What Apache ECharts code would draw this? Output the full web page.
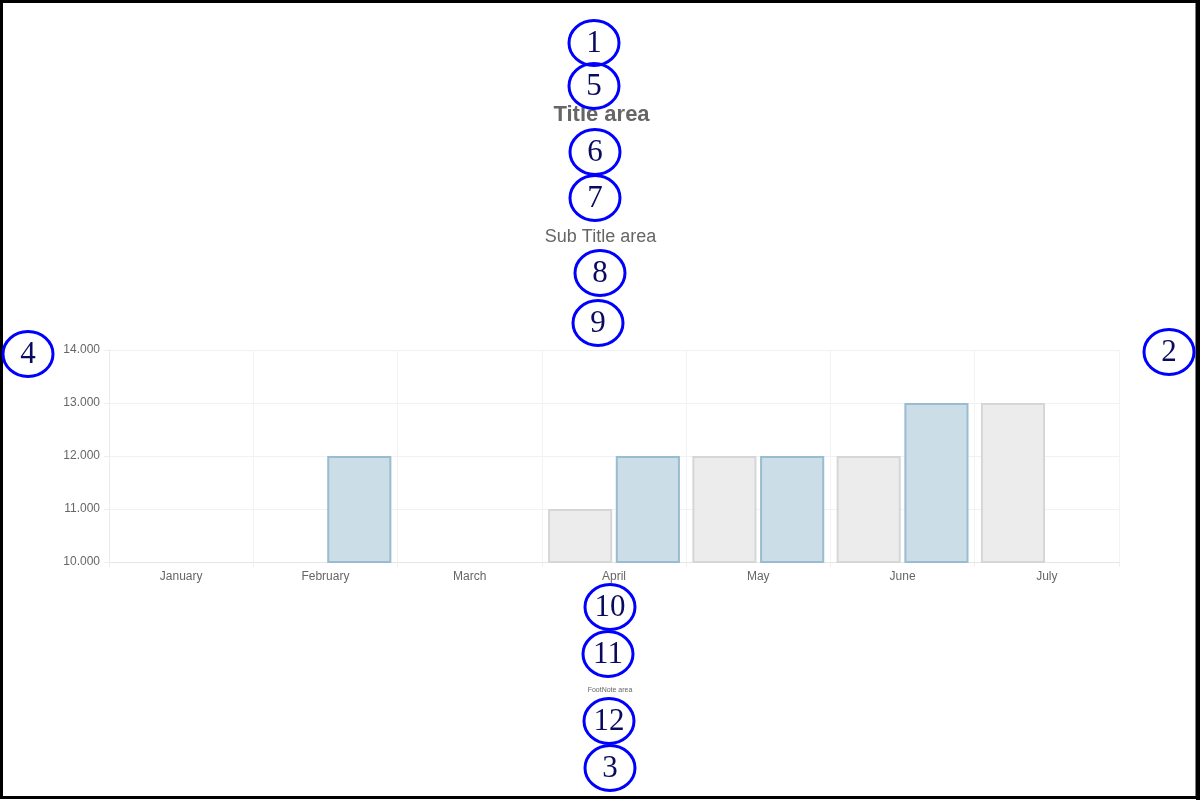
<!DOCTYPE html>
<html>
<head>
<meta charset="utf-8">
<script src="https://cdn.jsdelivr.net/npm/echarts@6/dist/echarts.min.js"></script>
<style>
  html, body { margin: 0; padding: 0; background: #fff; }
  #chart { width: 1200px; height: 800px; }
</style>
</head>
<body>
<div id="chart"></div>
<script>
// ---- data ----
const categories = ['January', 'February', 'March', 'April', 'May', 'June', 'July'];
const seriesGrey = [null, null, 10015, 11000, 12000, 12000, 13000];
const seriesBlue = [null, 12000, null, 12000, 12000, 13000, null];
const yTicks = [10000, 11000, 12000, 13000, 14000];
const yTickLabels = ['10.000', '11.000', '12.000', '13.000', '14.000'];
const titleText = 'Title area';
const subTitleText = 'Sub Title area';
const footNoteText = 'FootNote area';
const markerLabels = ['1', '5', '6', '7', '8', '9', '4', '2', '10', '11', '12', '3'];

// ---- layout of annotation markers (not data) ----
const markerPos = [
  [594, 43], [594, 86], [595, 152], [595, 198], [600, 273], [598, 323],
  [28, 354], [1169, 352], [610, 607], [608, 654], [609, 721], [610, 768]
];

const chart = echarts.init(document.getElementById('chart'), null, { renderer: 'canvas' });
const sans = '"Liberation Sans", Arial, sans-serif';

const graphics = [];
graphics.push({
  type: 'rect', z: 100, silent: true,
  shape: { x: 1.5, y: 1.5, width: 1195.5, height: 796 },
  style: { fill: 'none', stroke: '#000', lineWidth: 3 }
});
graphics.push({
  type: 'rect', z: 100, silent: true,
  shape: { x: 1196, y: 0, width: 4, height: 800 },
  style: { fill: '#000' }
});
// titles
graphics.push({ type: 'text', z: 50, silent: true, x: 601.5, y: 115,
  style: { text: titleText, fill: '#666666', font: 'bold 22px ' + sans, textAlign: 'center', textVerticalAlign: 'middle' } });
graphics.push({ type: 'text', z: 50, silent: true, x: 600.5, y: 237.5,
  style: { text: subTitleText, fill: '#666666', font: '18px ' + sans, textAlign: 'center', textVerticalAlign: 'middle' } });
graphics.push({ type: 'text', z: 50, silent: true, x: 610, y: 690.5,
  style: { text: footNoteText, fill: '#666666', font: '7px ' + sans, textAlign: 'center', textVerticalAlign: 'middle' } });

markerLabels.forEach((lab, i) => {
  const [cx, cy] = markerPos[i];
  graphics.push({
    type: 'ellipse', z: 100, silent: true,
    shape: { cx: cx, cy: cy, rx: 25, ry: 22.5 },
    style: { fill: 'none', stroke: '#0000ff', lineWidth: 3 }
  });
  graphics.push({
    type: 'text', z: 101, silent: true,
    x: cx, y: cy + 1,
    style: {
      text: lab, fill: '#0a0a5e',
      font: '31px "Liberation Serif", "Times New Roman", serif',
      textAlign: 'center', textVerticalAlign: 'middle'
    }
  });
});

const option = {
  backgroundColor: '#ffffff',
  animation: false,
  grid: { left: 109, top: 350, width: 1010, height: 212, containLabel: false },
  xAxis: {
    type: 'category',
    data: categories,
    boundaryGap: true,
    axisLine: { show: true, lineStyle: { color: '#e6e6e6', width: 1 } },
    axisTick: { show: true, length: 5, alignWithLabel: false, lineStyle: { color: '#eeeeee' } },
    axisLabel: { margin: 9, color: '#666666', fontSize: 12, fontFamily: sans },
    splitLine: { show: true, lineStyle: { color: '#f3f3f3', width: 1 } }
  },
  yAxis: {
    type: 'value',
    min: yTicks[0],
    max: yTicks[yTicks.length - 1],
    interval: yTicks[1] - yTicks[0],
    axisLine: { show: true, lineStyle: { color: '#ebebeb' } },
    axisTick: { show: true, length: 5, lineStyle: { color: '#eeeeee' } },
    axisLabel: {
      margin: 9, color: '#666666', fontSize: 12, fontFamily: sans,
      formatter: function (v) { const i = yTicks.indexOf(v); return i >= 0 ? yTickLabels[i] : ''; }
    },
    splitLine: { show: true, lineStyle: { color: '#f1f1f1', width: 1 } }
  },
  series: [
    {
      type: 'bar', name: 'grey', data: seriesGrey,
      barCategoryGap: '8.6%', barGap: '5.6%',
      itemStyle: { color: '#ececec', borderColor: '#d6d6d6', borderWidth: 2 }
    },
    {
      type: 'bar', name: 'blue', data: seriesBlue,
      barCategoryGap: '8.6%', barGap: '5.6%',
      itemStyle: { color: '#cbdde6', borderColor: '#99bcd0', borderWidth: 2 }
    }
  ],
  graphic: graphics
};
chart.setOption(option);
</script>
</body>
</html>
